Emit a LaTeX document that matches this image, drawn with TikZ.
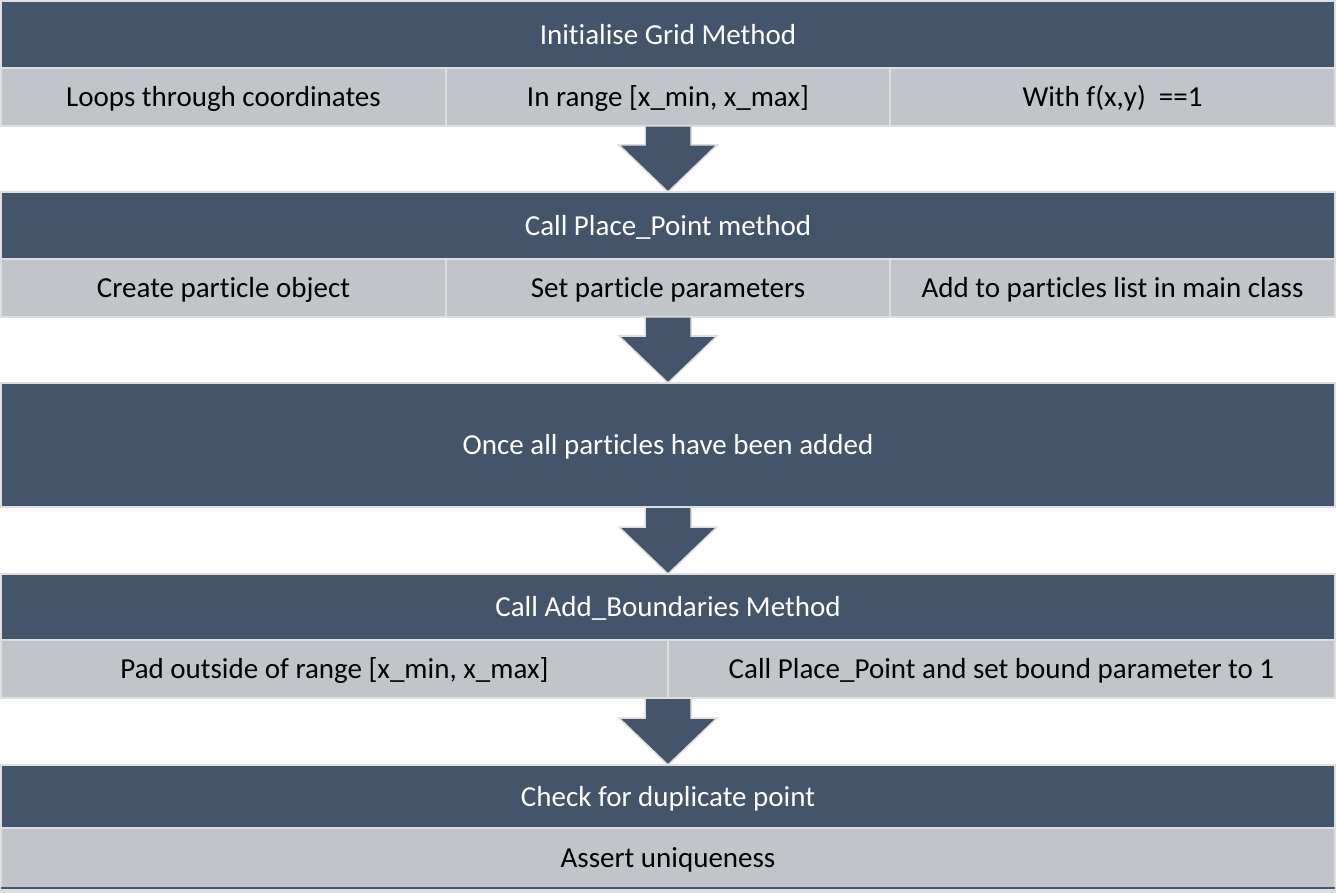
\documentclass[tikz,border=0pt]{standalone}
\usepackage{fontspec}
\setmainfont{Carlito}[Ligatures={NoCommon}]
\usetikzlibrary{calc}
\definecolor{darkcol}{HTML}{44546A}
\definecolor{lightcol}{HTML}{C1C4C9}
\definecolor{bordercol}{HTML}{DEDEDE}
\tikzset{
  cellbase/.style={rectangle, inner sep=0pt, outer sep=0pt, draw=bordercol, line width=2pt,
    font=\fontsize{29}{35}\selectfont, text height=22pt, text depth=2.6pt},
  darkcell/.style={cellbase, fill=darkcol, text=white},
  lightcell/.style={cellbase, fill=lightcol, text=black},
  blockarrow/.style={fill=darkcol, draw=bordercol, line width=1.5pt, line join=miter},
}
\newcommand{\blockarr}[2]{% #1 = top coordinate, #2 = tip coordinate
  \draw[blockarrow] ($(#1)+(-23,0)$) -- ($(#2)+(-23,-47)$) -- ($(#2)+(-49,-47)$) -- (#2)
    -- ($(#2)+(49,-47)$) -- ($(#2)+(23,-47)$) -- ($(#1)+(23,0)$) -- cycle;}
\begin{document}
\begin{tikzpicture}[x=1pt,y=-1pt]
\useasboundingbox (0,0) rectangle (1336,893);
\fill[white] (0,0) rectangle (1336,893);
\fill[bordercol] (0,886) rectangle (1336,893);
% band 1
\node[darkcell, minimum width=1334pt, minimum height=67pt] (b1) at (668,34.5) {Initialise Grid Method};
\node[lightcell, minimum width=445pt, minimum height=58pt] (r1a) at (223.5,97) {Loops through coordinates};
\node[lightcell, minimum width=444pt, minimum height=58pt] (r1b) at (668,97) {In range [x\_min, x\_max]};
\node[lightcell, minimum width=445pt, minimum height=58pt] (r1c) at (1112.5,97) {With f(x,y)\ \ ==1};
% band 2
\node[darkcell, minimum width=1334pt, minimum height=67pt] (b2) at (668,225.5) {Call Place\_Point method};
\node[lightcell, minimum width=445pt, minimum height=58pt] (r2a) at (223.5,288) {Create particle object};
\node[lightcell, minimum width=444pt, minimum height=58pt] (r2b) at (668,288) {Set particle parameters};
\node[lightcell, minimum width=445pt, minimum height=58pt] (r2c) at (1112.5,288) {Add to particles list in main class};
% band 3
\node[darkcell, minimum width=1334pt, minimum height=124pt] (b3) at (668,445) {Once all particles have been added};
% band 4
\node[darkcell, minimum width=1334pt, minimum height=66pt] (b4) at (668,607) {Call Add\_Boundaries Method};
\node[lightcell, minimum width=667pt, minimum height=58pt] (r4a) at (334.5,669) {Pad outside of range [x\_min, x\_max]};
\node[lightcell, minimum width=667pt, minimum height=58pt] (r4b) at (1001.5,669) {Call Place\_Point and set bound parameter to 1};
% band 5
\node[darkcell, minimum width=1334pt, minimum height=63pt] (b5) at (668,796.5) {Check for duplicate point};
\node[lightcell, minimum width=1334pt, minimum height=60pt] (r5) at (668,858) {Assert uniqueness};
\draw[darkcol, line width=2pt] (r5.south west) -- (r5.south east);
% arrows
\coordinate (a1s) at (r1b.south -| b2.north);
\blockarr{a1s}{b2.north}
\coordinate (a2s) at (r2b.south -| b3.north);
\blockarr{a2s}{b3.north}
\coordinate (a3s) at (b3.south);
\blockarr{a3s}{b4.north}
\coordinate (a4s) at (r4a.south -| b5.north);
\blockarr{a4s}{b5.north}
\end{tikzpicture}
\end{document}
